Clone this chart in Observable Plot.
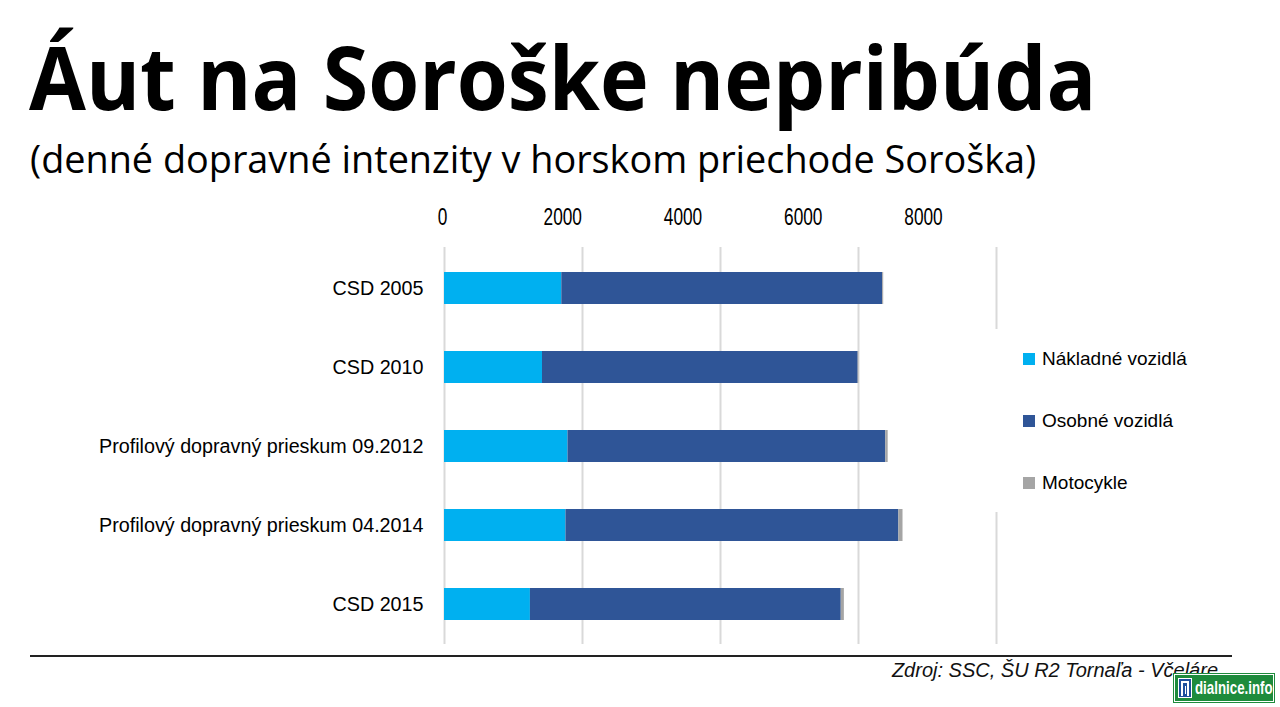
<!DOCTYPE html>
<html>
<head>
<meta charset="utf-8">
<script src="https://cdn.jsdelivr.net/npm/d3@7"></script>
<script src="https://cdn.jsdelivr.net/npm/@observablehq/plot@0.6"></script>
<style>
  html, body { margin: 0; padding: 0; background: #fff; }
  #page { position: relative; width: 1280px; height: 707px; overflow: hidden; background: #fff; }
  .abs { position: absolute; white-space: nowrap; }
  #title { font-family: "Open Sans", "Noto Sans", sans-serif; font-weight: 700; font-size: 87px; line-height: 1; top: 33px; color: #000; }
  #subtitle { font-family: "Open Sans", "Noto Sans", sans-serif; font-weight: 400; font-size: 38px; line-height: 1; top: 139px; color: #000; }
  #legend { left: 990px; top: 329px; width: 220px; height: 183px; background: #fff; font-family: "Liberation Sans", Arial, sans-serif; font-size: 19px; color: #000; }
  .li { position: absolute; left: 33px; height: 22px; display: flex; align-items: center; }
  .sw { width: 12px; height: 12px; margin-right: 7px; }
  #source { font-family: "Liberation Sans", Arial, sans-serif; font-style: italic; font-size: 20px; color: #111; right: 62px; top: 659px; }
  #rule { left: 30px; top: 655px; width: 1202px; height: 2px; background: #222; }
  #logo { left: 1173px; top: 673px; width: 100px; height: 28px; background: #1e8b3c; border: 1px solid #1e8b3c; box-shadow: inset 0 0 0 1px #fff; overflow: hidden; }
  #logo .ic { position: absolute; left: 4px; top: 4px; width: 14px; height: 20px; background: #1d4f9c; border: 1px solid #fff; box-sizing: border-box; }
  #logo .ic i { position: absolute; background: #fff; }
  #logo span { position: absolute; left: 21px; top: 3px; color: #fff; font-family: "Liberation Sans", Arial, sans-serif; font-weight: 700; font-size: 19px; line-height: 22px; transform: scaleX(0.7); transform-origin: 0 0; }
</style>
</head>
<body>
<div id="page">
  <div id="title" class="abs">Áut na Soroške nepribúda</div>
  <div id="subtitle" class="abs">(denné dopravné intenzity v horskom priechode Soroška)</div>
  <div id="chart" class="abs" style="left:0;top:195px;"></div>
  <div id="axis" class="abs" style="left:0;top:182px;"></div>
  <div id="legend" class="abs"></div>
  <div id="rule" class="abs"></div>
  <div id="source" class="abs">Zdroj: SSC, ŠU R2 Tornaľa - Včeláre</div>
  <div id="logo" class="abs"><div class="ic"><i style="left:2px;top:2px;width:8px;height:2px"></i><i style="left:2px;top:4px;width:2px;height:13px"></i><i style="left:8px;top:4px;width:2px;height:13px"></i><i style="left:5.5px;top:7px;width:1px;height:8px"></i></div><span>dialnice.info</span></div>
</div>
<script>
// ---- data ----
const categories = [
  "CSD 2005",
  "CSD 2010",
  "Profilový dopravný prieskum 09.2012",
  "Profilový dopravný prieskum 04.2014",
  "CSD 2015"
];
const seriesNames = ["Nákladné vozidlá", "Osobné vozidlá", "Motocykle"];
const nakladneVozidla = [1700, 1420, 1790, 1760, 1245];
const osobneVozidla   = [4650, 4575, 4605, 4825, 4505];
const motocykle       = [15, 10, 35, 60, 45];
const xTicks = [0, 2000, 4000, 6000, 8000];
const seriesColors = ["#00b0f0", "#2f5597", "#a5a5a5"];

const seriesValues = [nakladneVozidla, osobneVozidla, motocykle];
const rows = [];
categories.forEach((c, i) => {
  seriesNames.forEach((s, j) => rows.push({category: c, series: s, value: seriesValues[j][i]}));
});

const chart = Plot.plot({
  width: 1010,
  height: 460,
  marginLeft: 444,
  marginRight: 14,
  marginTop: 52,
  marginBottom: 11,
  style: {background: "transparent", color: "#000", fontFamily: "'Liberation Sans', Arial, sans-serif", overflow: "visible"},
  x: {domain: [0, 8000], axis: null},
  y: {domain: categories, paddingInner: 0.597, paddingOuter: 0.296, axis: null, label: null},
  color: {domain: seriesNames, range: seriesColors},
  marks: [
    Plot.gridX(xTicks, {stroke: "#d9d9d9", strokeOpacity: 1, strokeWidth: 2}),
    Plot.barX(rows, Plot.stackX({x: "value", y: "category", fill: "series", order: seriesNames})),
    Plot.axisY({tickSize: 0, tickPadding: 21, fontSize: 21, fill: "#000", label: null})
  ]
});
// slightly condensed tick labels, as in the reference
d3.select(chart).selectAll("g[aria-label='y-axis tick label'] text")
  .attr("transform", function () { return (this.getAttribute("transform") || "") + " scale(0.94,1)"; });
document.getElementById("chart").appendChild(chart);

// tick labels of the top axis (placed as in the reference, on their own scale)
const axis = Plot.plot({
  width: 1010,
  height: 50,
  marginLeft: 442,
  marginRight: 87,
  marginTop: 46,
  marginBottom: 4,
  style: {background: "transparent", color: "#000", fontFamily: "'Liberation Sans', Arial, sans-serif", overflow: "visible"},
  x: {domain: [0, 8000]},
  y: {axis: null},
  marks: [
    Plot.axisX(xTicks, {anchor: "top", tickSize: 0, tickPadding: 4, fontSize: 24, fill: "#000", label: null, tickFormat: d => String(d)})
  ]
});
d3.select(axis).selectAll("g[aria-label='x-axis tick label'] text")
  .attr("transform", function () { return (this.getAttribute("transform") || "") + " scale(0.72,1)"; });
document.getElementById("axis").appendChild(axis);

// legend
const legend = document.getElementById("legend");
const legendTops = [19, 81, 143];
seriesNames.forEach((s, i) => {
  const d = document.createElement("div");
  d.className = "li";
  d.style.top = legendTops[i] + "px";
  d.innerHTML = `<div class="sw" style="background:${seriesColors[i]}"></div><span>${s}</span>`;
  legend.appendChild(d);
});

// fit title texts horizontally to the reference widths
function fit(el, inkLeft, inkWidth) {
  const cs = getComputedStyle(el);
  const ctx = document.createElement("canvas").getContext("2d");
  ctx.font = `${cs.fontStyle} ${cs.fontWeight} ${cs.fontSize} ${cs.fontFamily}`;
  const m = ctx.measureText(el.textContent);
  const w = m.actualBoundingBoxLeft + m.actualBoundingBoxRight;
  const s = inkWidth / w;
  el.style.transformOrigin = "0 0";
  el.style.transform = `scaleX(${s})`;
  el.style.left = (inkLeft + m.actualBoundingBoxLeft * s) + "px";
}
fit(document.getElementById("title"), 29, 1061);
fit(document.getElementById("subtitle"), 31, 1004);
</script>
</body>
</html>
